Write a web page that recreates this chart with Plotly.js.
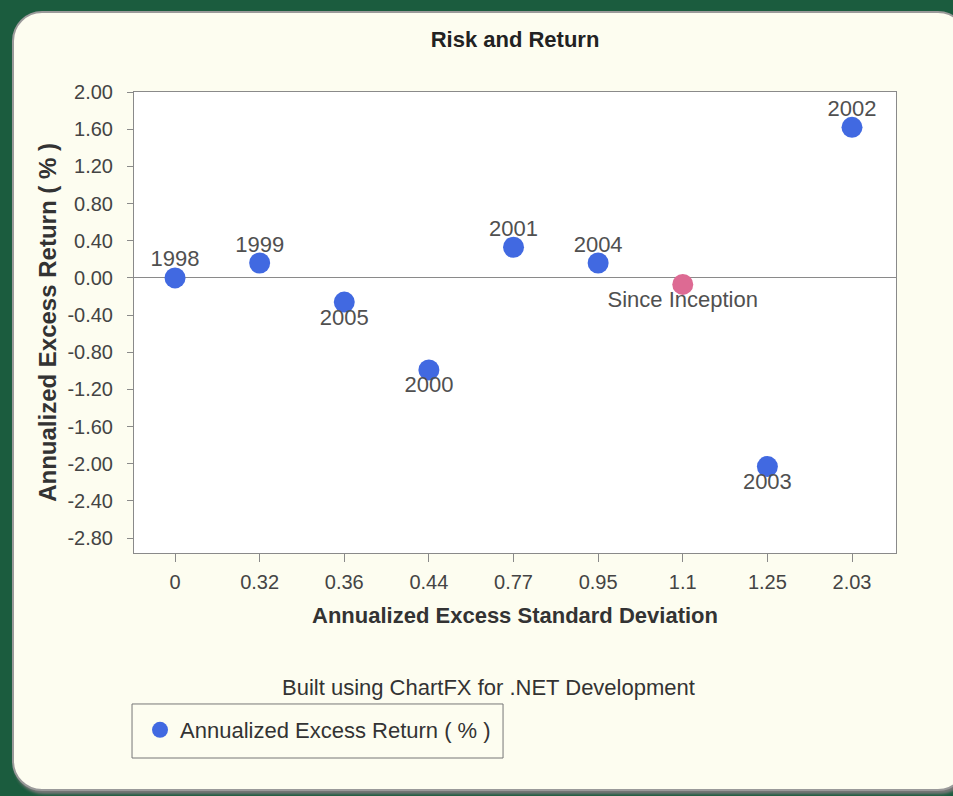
<!DOCTYPE html>
<html>
<head>
<meta charset="utf-8">
<script src="https://cdn.plot.ly/plotly-3.0.1.min.js"></script>
<style>
  html, body { margin: 0; padding: 0; background: #1b5c3e; width: 953px; height: 796px; overflow: hidden; }
  #panel { position: absolute; left: 12px; top: 11px; width: 952px; height: 776px; background: #fdfdf0;
           border: 2px solid #9a9a9a; border-radius: 30px; box-shadow: 2px 3px 3px #777; }
  #chart { position: absolute; left: 0; top: 0; width: 953px; height: 796px; }
</style>
</head>
<body>
<div id="panel"></div>
<div id="chart"></div>
<script>
// Categories on the x axis (Annualized Excess Standard Deviation)
const categories = ["0", "0.32", "0.36", "0.44", "0.77", "0.95", "1.1", "1.25", "2.03"];

// Yearly points
const yearX = ["0", "0.32", "0.36", "0.44", "0.77", "0.95", "1.25", "2.03"];
const yearY = [0.00, 0.16, -0.26, -0.99, 0.33, 0.16, -2.03, 1.62];
const yearLabels = ["1998", "1999", "2005", "2000", "2001", "2004", "2003", "2002"];
const yearLabelPos = ["top center", "top center", "bottom center", "bottom center", "top center", "top center", "bottom center", "top center"];

// Since inception point
const sinceX = ["1.1"];
const sinceY = [-0.07];
const sinceLabels = ["Since Inception"];
const sinceLabelPos = ["bottom center"];

// Y axis ticks
const yTickVals = [-2.8, -2.4, -2.0, -1.6, -1.2, -0.8, -0.4, 0, 0.4, 0.8, 1.2, 1.6, 2.0];
const yTickText = ["-2.80", "-2.40", "-2.00", "-1.60", "-1.20", "-0.80", "-0.40", "0.00", "0.40", "0.80", "1.20", "1.60", "2.00"];

const FONT = "Liberation Sans, Arial, Helvetica, sans-serif";

const traces = [
  {
    type: "scatter", mode: "markers", name: "Annualized Excess Return ( % )",
    x: yearX, y: yearY,
    marker: { color: "#4169E1", size: 21 },
    hoverinfo: "x+y", showlegend: true
  },
  {
    type: "scatter", mode: "markers", name: "Since Inception",
    x: sinceX, y: sinceY,
    marker: { color: "#DD6A93", size: 21 },
    showlegend: false
  },
  {
    type: "scatter", mode: "markers+text", x: yearX, y: yearY,
    text: yearLabels, textposition: yearLabelPos,
    textfont: { family: FONT, size: 22, color: "#505050" },
    marker: { size: 8, opacity: 0 }, showlegend: false, hoverinfo: "skip"
  },
  {
    type: "scatter", mode: "markers+text", x: sinceX, y: sinceY,
    text: sinceLabels, textposition: sinceLabelPos,
    textfont: { family: FONT, size: 22, color: "#505050" },
    marker: { size: 8, opacity: 0 }, showlegend: false, hoverinfo: "skip"
  }
];

const layout = {
  width: 953, height: 796,
  margin: { l: 134, r: 57, t: 92, b: 243 },
  paper_bgcolor: "rgba(0,0,0,0)",
  plot_bgcolor: "#ffffff",
  font: { family: FONT, color: "#444" },
  title: { text: "<b>Risk and Return</b>", font: { family: FONT, size: 22, color: "#222" },
           x: 0.5, xref: "paper", xanchor: "center", y: 1 - 39 / 796, yanchor: "middle" },
  xaxis: {
    type: "category", categoryorder: "array", categoryarray: categories,
    range: [-0.485, 8.52],
    showline: true, linecolor: "#8a8a8a", linewidth: 1, mirror: true,
    showgrid: false, zeroline: false,
    ticks: "outside", ticklen: 8, tickcolor: "#8a8a8a",
    ticklabelstandoff: 3,
    tickfont: { family: FONT, size: 20, color: "#444" },
    title: { text: "<b>Annualized Excess Standard Deviation</b>", standoff: 15,
             font: { family: FONT, size: 22, color: "#333" } }
  },
  yaxis: {
    range: [-2.96, 2.0],
    tickmode: "array", tickvals: yTickVals, ticktext: yTickText,
    showline: true, linecolor: "#8a8a8a", linewidth: 1, mirror: true,
    showgrid: false,
    zeroline: true, zerolinecolor: "#8a8a8a", zerolinewidth: 1,
    ticks: "outside", ticklen: 6, tickcolor: "#8a8a8a",
    ticklabelstandoff: 10,
    tickfont: { family: FONT, size: 20, color: "#444" },
    title: { text: "<b>Annualized Excess Return ( % )</b>", standoff: 4,
             font: { family: FONT, size: 24, color: "#333" } }
  },
  showlegend: true,
  legend: {
    x: 0.0079, xanchor: "left", y: -0.384, yanchor: "middle",
    bgcolor: "rgba(0,0,0,0)", borderwidth: 0,
    font: { family: FONT, size: 22, color: "#333" }
  },
  shapes: [
    { type: "rect", xref: "paper", yref: "paper",
      x0: -0.0026, x1: 0.4843, y0: -0.4447, y1: -0.3275,
      line: { color: "#777", width: 1 }, fillcolor: "rgba(0,0,0,0)", layer: "below" }
  ],
  annotations: [
    { text: "Built using ChartFX for .NET Development", xref: "paper", yref: "paper",
      x: 0.4646, y: -0.2928, xanchor: "center", yanchor: "middle", showarrow: false,
      font: { family: FONT, size: 22, color: "#333" } }
  ]
};

Plotly.newPlot("chart", traces, layout, { displayModeBar: false, staticPlot: true });
</script>
</body>
</html>
